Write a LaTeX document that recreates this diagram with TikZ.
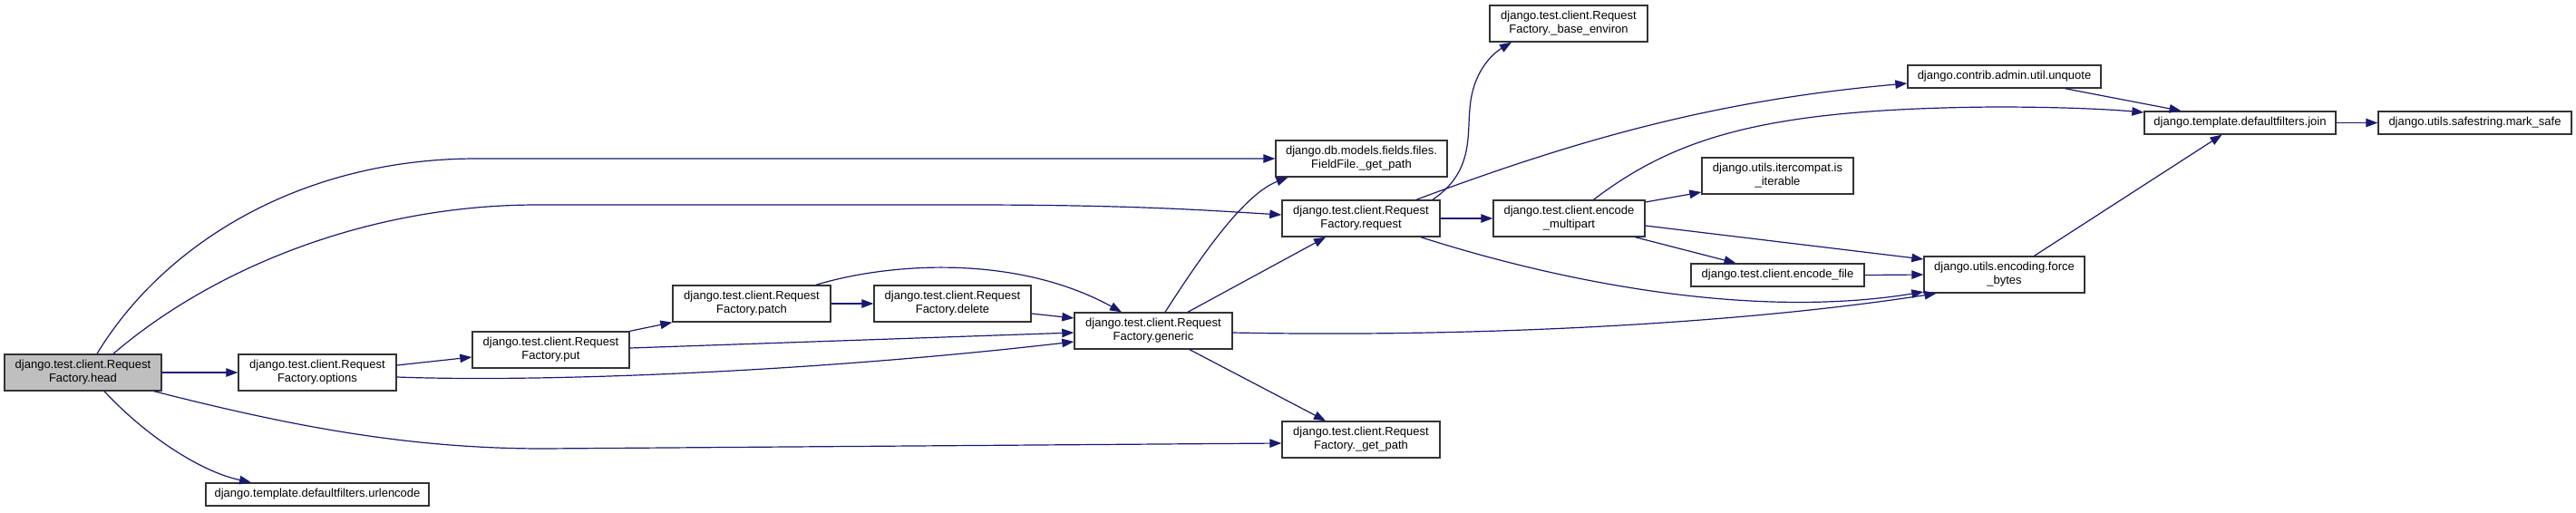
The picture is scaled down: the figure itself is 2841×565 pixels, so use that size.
\documentclass[tikz,border=0pt]{standalone}
\usepackage{fontspec}
\setmainfont{Liberation Sans}
\usetikzlibrary{arrows.meta}
\definecolor{edgeblue}{HTML}{191970}
\definecolor{boxline}{HTML}{333333}
\definecolor{headfill}{HTML}{BFBFBF}
\begin{document}
\begin{tikzpicture}[x=1pt,y=-1pt,
  box/.style={draw=boxline,line width=1.4pt,fill=white,inner sep=0pt,align=center,
    font=\fontsize{13pt}{15pt}\selectfont,minimum height=40pt},
  box1/.style={box,minimum height=25pt},
  edge/.style={draw=edgeblue,line width=1.2pt,-{Triangle[length=13pt,width=9.5pt]}}]
\useasboundingbox (0,0) rectangle (2841,565);
% nodes
\node[box,fill=headfill,minimum width=173pt] (head) at (91.5,411) {django.test.client.Request\\Factory.head};
\node[box,minimum width=174pt] (options) at (350,411) {django.test.client.Request\\Factory.options};
\node[box1,minimum width=246pt] (urlencode) at (350,545.5) {django.template.defaultfilters.urlencode};
\node[box,minimum width=173pt] (put) at (607.5,386) {django.test.client.Request\\Factory.put};
\node[box,minimum width=174pt] (patch) at (829,335) {django.test.client.Request\\Factory.patch};
\node[box,minimum width=173pt] (delete) at (1050.5,335) {django.test.client.Request\\Factory.delete};
\node[box,minimum width=174pt] (generic) at (1272,365) {django.test.client.Request\\Factory.generic};
\node[box,minimum width=174pt] (rfgetpath) at (1501,485) {django.test.client.Request\\Factory.\_get\_path};
\node[box,minimum width=189pt] (fieldfile) at (1501.5,175) {django.db.models.fields.files.\\FieldFile.\_get\_path};
\node[box,minimum width=174pt] (request) at (1501,241) {django.test.client.Request\\Factory.request};
\node[box,minimum width=174pt] (baseenv) at (1730,26) {django.test.client.Request\\Factory.\_base\_environ};
\node[box,minimum width=167pt] (multipart) at (1730.5,241) {django.test.client.encode\\\_multipart};
\node[box,minimum width=167pt] (iterable) at (1960.5,194) {django.utils.itercompat.is\\\_iterable};
\node[box1,minimum width=191pt] (encodefile) at (1960.5,303.5) {django.test.client.encode\_file};
\node[box1,minimum width=213pt] (unquote) at (2210.5,84.5) {django.contrib.admin.util.unquote};
\node[box,minimum width=177pt] (forcebytes) at (2210.5,303) {django.utils.encoding.force\\\_bytes};
\node[box1,minimum width=211pt] (join) at (2470.5,135.5) {django.template.defaultfilters.join};
\node[box1,minimum width=213pt] (marksafe) at (2729.5,135.5) {django.utils.safestring.mark\_safe};
% edges
\draw[edge] ([xshift=15.5pt]head.north) .. controls (180,270) and (330,175) .. (526,175) -- (fieldfile.west);
\draw[edge] ([xshift=33.5pt]head.north) .. controls (230,300) and (400,226) .. (593,226) -- (1067,226) .. controls (1250,226) and (1330,232) .. ([yshift=4pt]request.west);
\draw[edge] (head.east) -- (options.west);
\draw[edge] ([xshift=78.5pt]head.south) .. controls (320,470) and (450,495) .. (600,495) -- ([yshift=-4pt]rfgetpath.west);
\draw[edge] ([xshift=23.5pt]head.south) .. controls (160,480) and (220,520) .. ([xshift=-73pt]urlencode.north);
\draw[edge] ([yshift=8pt]options.east) -- ([yshift=-8pt]put.west);
\draw[edge] ([yshift=-5pt]options.east) .. controls (600,422) and (900,410) .. ([yshift=-12pt]generic.west);
\draw[edge] (put.north east) -- (patch.south west);
\draw[edge] ([yshift=2pt]put.east) -- ([yshift=-2pt]generic.west);
\draw[edge] (patch.east) -- (delete.west);
\draw[edge] ([xshift=71pt]patch.north) .. controls (980,290) and (1120,280) .. ([xshift=-35pt]generic.north);
\draw[edge] ([yshift=-11pt]delete.east) -- ([yshift=14pt]generic.west);
\draw[edge] ([xshift=13pt]generic.north) .. controls (1320,290) and (1370,215) .. ([xshift=-81pt]fieldfile.south);
\draw[edge] ([xshift=38pt]generic.north) -- ([xshift=-39pt]request.south);
\draw[edge] ([xshift=40pt]generic.south) -- ([xshift=-39pt]rfgetpath.north);
\draw[edge] ([yshift=-2pt]generic.east) .. controls (1600,372) and (1900,360) .. ([xshift=-75pt]forcebytes.south);
\draw[edge] ([xshift=79pt]request.north) .. controls (1625,190) and (1618,150) .. (1621,120) .. controls (1624,80) and (1645,60) .. ([xshift=-63pt]baseenv.south);
\draw[edge] ([xshift=61pt]request.north) .. controls (1750,150) and (1900,110) .. ([yshift=-7.5pt]unquote.west);
\draw[edge] (request.east) -- (multipart.west);
\draw[edge] ([xshift=66pt]request.south) .. controls (1750,320) and (1950,350) .. ([yshift=-19pt]forcebytes.west);
\draw[edge] ([xshift=27pt]multipart.north) .. controls (1850,150) and (1950,120) .. (2200,118) .. controls (2280,118) and (2330,121) .. ([yshift=11.5pt]join.west);
\draw[edge] ([yshift=18pt]multipart.east) -- ([yshift=-18pt]iterable.west);
\draw[edge] ([yshift=-8pt]multipart.east) -- ([yshift=17pt]forcebytes.west);
\draw[edge] ([xshift=73pt]multipart.south) -- ([xshift=-46pt]encodefile.north);
\draw[edge] (encodefile.east) -- (forcebytes.west);
\draw[edge] ([xshift=67pt]unquote.south) -- ([xshift=-65pt]join.north);
\draw[edge] ([xshift=33pt]forcebytes.north) -- ([xshift=-20pt]join.south);
\draw[edge] (join.east) -- (marksafe.west);
\end{tikzpicture}
\end{document}
